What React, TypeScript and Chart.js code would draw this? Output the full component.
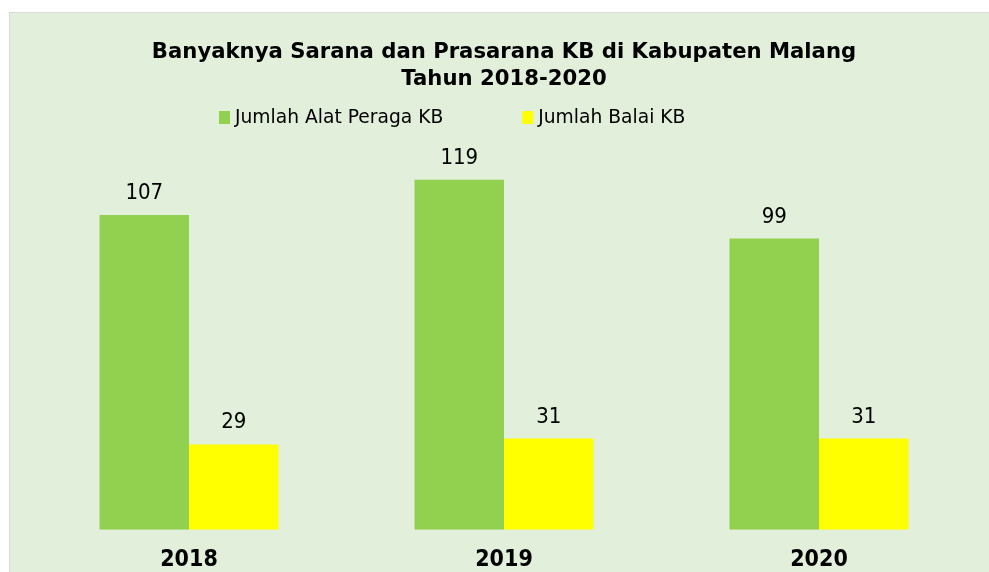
import React, { useEffect, useRef } from "react";
import { Chart, registerables } from "chart.js";

Chart.register(...registerables);

const titleLines = ["Banyaknya Sarana dan Prasarana KB di Kabupaten Malang", "Tahun 2018-2020"];
const categories = ["2018", "2019", "2020"];
const seriesNames = ["Jumlah Alat Peraga KB", "Jumlah Balai KB"];
const alatPeraga = [107, 119, 99];
const balai = [29, 31, 31];
const seriesColors = ["#92d050", "#ffff00"];

const FONT = "'DejaVu Sans', sans-serif";
const FONT_COND = "'DejaVu Sans Condensed', 'DejaVu Sans', sans-serif";

const valueLabels = {
  id: "valueLabels",
  afterDatasetsDraw(chart: any) {
    const ctx = chart.ctx;
    ctx.save();
    ctx.font = `22px ${FONT_COND}`;
    ctx.fillStyle = "#000000";
    ctx.textAlign = "center";
    ctx.textBaseline = "alphabetic";
    chart.data.datasets.forEach((ds: any, i: number) => {
      const meta = chart.getDatasetMeta(i);
      meta.data.forEach((el: any, j: number) => {
        ctx.fillText(String(ds.data[j]), el.x, el.y - 16);
      });
    });
    ctx.restore();
  },
};

const customLegend = {
  id: "customLegend",
  afterDraw(chart: any) {
    const ctx = chart.ctx;
    ctx.save();
    ctx.font = `18.7px ${FONT}`;
    ctx.textBaseline = "middle";
    ctx.textAlign = "left";
    let x = 209;
    const cy = 105;
    chart.data.datasets.forEach((ds: any) => {
      ctx.fillStyle = ds.backgroundColor;
      ctx.fillRect(x, cy - 7, 11, 13);
      ctx.fillStyle = "#000000";
      ctx.fillText(ds.label, x + 16, cy);
      x += 16 + ctx.measureText(ds.label).width + 79;
    });
    ctx.restore();
  },
};

export default function App() {
  const ref = useRef<HTMLCanvasElement | null>(null);
  useEffect(() => {
    if (!ref.current) return;
    const chart = new Chart(ref.current, {
      type: "bar",
      data: {
        labels: categories,
        datasets: [
          { label: seriesNames[0], data: alatPeraga, backgroundColor: seriesColors[0] },
          { label: seriesNames[1], data: balai, backgroundColor: seriesColors[1] },
        ],
      },
      options: {
        animation: false,
        responsive: true,
        maintainAspectRatio: false,
        layout: { padding: { left: 21.5, right: 12.5, top: 0, bottom: 2.2 } },
        datasets: { bar: { categoryPercentage: 0.568, barPercentage: 1.0 } },
        plugins: {
          legend: { display: false },
          tooltip: { enabled: false },
          title: {
            display: true,
            text: titleLines,
            color: "#000000",
            font: { family: FONT, size: 21.2, weight: "bold", lineHeight: 27 / 21.2 },
            padding: { top: 25.5, bottom: 54.8 },
          },
        },
        scales: {
          x: {
            grid: { display: false, drawTicks: false, tickLength: 0 },
            border: { display: false },
            ticks: { color: "#000000", padding: 16.2, font: { family: FONT_COND, size: 23, weight: "bold" } },
          },
          y: { display: false, min: 0, max: 130 },
        },
      },
      plugins: [valueLabels, customLegend],
    });
    return () => chart.destroy();
  }, []);
  return (
    <>
      <style>{`html,body{margin:0;padding:0;overflow:hidden;background:#ffffff;}`}</style>
      <div
        style={{
          position: "absolute",
          left: 9,
          top: 12,
          width: 980,
          height: 560,
          overflow: "hidden",
          background: "#e2efda",
          borderLeft: "1px solid #d9d9d9",
          borderTop: "1px solid #d9d9d9",
        }}
      >
        <div style={{ position: "relative", width: 979, height: 579 }}>
          <canvas ref={ref} />
        </div>
      </div>
    </>
  );
}
